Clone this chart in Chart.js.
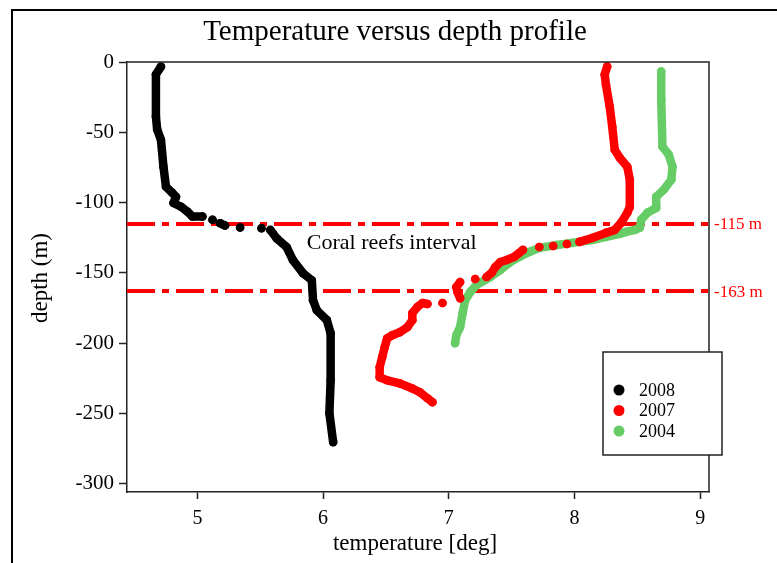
<!DOCTYPE html>
<html>
<head>
<meta charset="utf-8">
<script src="https://cdn.jsdelivr.net/npm/chart.js@4.4.1/dist/chart.umd.min.js"></script>
<style>
  html, body { margin: 0; padding: 0; background: #ffffff; }
</style>
</head>
<body>
<canvas id="chartDepthProfile" width="777" height="563"></canvas>
<script>
// temperature (deg) and depth (m) per survey year;
// a null pair breaks the trace where only scattered readings exist
var temp2008 = [4.71, 4.67, 4.67, 4.68, 4.71, 4.73, 4.75, 4.80, 4.83, 4.81, 4.87, 4.92, 4.96, 5.04,
  null, 5.12, null, 5.18, 5.22, null, 5.34, null, 5.51, null,
  5.58, 5.63, 5.71, 5.76, 5.84, 5.91, 5.92, 5.95, 6.03, 6.06, 6.06, 6.05, 6.08];
var depth2008 = [-3.3, -8.9, -38.7, -48.1, -55.3, -74.5, -88.8, -93.1, -96.0, -100.3, -103.0, -106.4, -110.0, -110.0,
  null, -112.3, null, -114.7, -116.4, null, -117.8, null, -118.3, null,
  -119.5, -125.4, -131.7, -141.0, -150.3, -155.3, -169.6, -176.7, -183.7, -193.0, -226.5, -250.0, -270.5];

var temp2007 = [8.26, 8.24, 8.25, 8.28, 8.30, 8.32, 8.36, 8.42, 8.44, 8.44, 8.42, 8.37, 8.32, 8.25, 8.14, 8.04,
  null, 7.94, null, 7.83, null, 7.72, null,
  7.59, 7.52, 7.46, 7.41, 7.37, 7.34, 7.30,
  null, 7.21, null,
  7.09, 7.06, 7.07, 7.09,
  null, 6.95, null,
  6.83, 6.79, 6.75, 6.71, 6.71, 6.67, 6.61, 6.55, 6.51, 6.49, 6.47, 6.45, 6.45, 6.51, 6.61, 6.71, 6.77, 6.83, 6.87];
var depth2007 = [-3.2, -8.9, -16.0, -31.7, -46.0, -62.4, -68.1, -74.5, -83.8, -103.1, -107.3, -114.5, -119.5, -121.6, -125.2, -128.0,
  null, -129.5, null, -130.9, null, -131.6, null,
  -133.7, -138.7, -140.9, -142.3, -145.9, -150.1, -153.0,
  null, -154.4, null,
  -156.6, -160.2, -163.8, -168.1,
  null, -171.5, null,
  -172.2, -171.5, -174.4, -178.7, -183.7, -188.7, -192.3, -194.4, -196.6, -203.0, -210.1, -217.2, -224.4, -226.5, -228.7, -232.3, -235.0, -239.3, -242.1];

var temp2004 = [8.69, 8.69, 8.70, 8.75, 8.78, 8.77, 8.71, 8.65, 8.65, 8.58, 8.53, 8.52, 8.48, 8.41, 8.36, 8.25,
  8.14, 7.98, 7.86, 7.72, 7.64, 7.56, 7.48, 7.41, 7.33, 7.22, 7.17, 7.13, 7.11, 7.09, 7.06, 7.05];
var depth2004 = [-6.8, -26.7, -60.3, -66.0, -74.5, -83.8, -90.9, -95.9, -103.8, -107.3, -112.3, -118.0, -119.5, -120.9, -122.3, -124.5,
  -126.7, -128.7, -130.2, -132.3, -135.2, -138.7, -143.0, -148.0, -153.0, -158.7, -163.8, -169.5, -178.7, -188.7, -194.4, -200.1];

var years = ["2008", "2007", "2004"];
var yearColors = ["#000000", "#ff0000", "#66cc66"];

var tempTicks = [5, 6, 7, 8, 9];
var depthTicks = [0, -50, -100, -150, -200, -250, -300];

// top and bottom of the coral reefs interval
var reefDepths = [-115, -163];

var serif = "'Liberation Serif', 'Times New Roman', serif";

function toPoints(temps, depths) {
  return temps.map(function (t, i) {
    return { x: t, y: depths[i] };
  });
}

function profileDataset(label, color, temps, depths) {
  return {
    label: label,
    data: toPoints(temps, depths),
    showLine: true,
    spanGaps: false,
    borderColor: color,
    backgroundColor: color,
    borderWidth: 8.5,
    borderCapStyle: "round",
    borderJoinStyle: "round",
    pointRadius: 4.3,
    pointHoverRadius: 4.3,
    pointBorderWidth: 0,
  };
}

var profileDecor = {
  id: "profileDecor",
  beforeDatasetsDraw: function (chart) {
    var ctx = chart.ctx;
    var area = chart.chartArea;
    var yScale = chart.scales.y;
    ctx.save();
    ctx.strokeStyle = "#ff0000";
    ctx.lineWidth = 4;
    ctx.setLineDash([28, 7, 7, 7]);
    reefDepths.forEach(function (d) {
      var py = Math.round(yScale.getPixelForValue(d));
      ctx.beginPath();
      ctx.moveTo(area.left, py);
      ctx.lineTo(area.right + 3, py);
      ctx.stroke();
    });
    ctx.restore();
  },
  afterDraw: function (chart) {
    var ctx = chart.ctx;
    var area = chart.chartArea;
    var xScale = chart.scales.x;
    var yScale = chart.scales.y;
    ctx.save();

    // outer frame
    ctx.strokeStyle = "#000000";
    ctx.lineWidth = 2;
    ctx.beginPath();
    ctx.moveTo(12, 563);
    ctx.lineTo(12, 10);
    ctx.lineTo(777, 10);
    ctx.stroke();

    // top and right edges of the plot box
    ctx.strokeStyle = "#222222";
    ctx.lineWidth = 1.5;
    ctx.beginPath();
    ctx.moveTo(area.left, area.top);
    ctx.lineTo(area.right, area.top);
    ctx.lineTo(area.right, area.bottom);
    ctx.stroke();

    // reef depth labels
    ctx.fillStyle = "#ff0000";
    ctx.font = "17px " + serif;
    ctx.textBaseline = "middle";
    ctx.textAlign = "left";
    reefDepths.forEach(function (d) {
      ctx.fillText(d + " m", area.right + 5, yScale.getPixelForValue(d) + 1);
    });

    ctx.fillStyle = "#000000";
    ctx.font = "22px " + serif;
    ctx.fillText("Coral reefs interval", xScale.getPixelForValue(5.87), yScale.getPixelForValue(-129));

    // title
    ctx.textAlign = "center";
    ctx.textBaseline = "alphabetic";
    ctx.font = "29px " + serif;
    ctx.fillText("Temperature versus depth profile", 395, 40);

    // axis titles
    ctx.font = "23px " + serif;
    ctx.textBaseline = "middle";
    ctx.fillText("temperature [deg]", 415, 544);
    ctx.save();
    ctx.translate(41, 278);
    ctx.rotate(-Math.PI / 2);
    ctx.fillText("depth (m)", 0, 0);
    ctx.restore();

    // legend box
    var bx = 603, by = 352, bw = 119, bh = 103;
    ctx.fillStyle = "#ffffff";
    ctx.fillRect(bx, by, bw, bh);
    ctx.strokeStyle = "#222222";
    ctx.lineWidth = 1.5;
    ctx.strokeRect(bx, by, bw, bh);
    ctx.font = "18px " + serif;
    ctx.textAlign = "left";
    chart.data.datasets.forEach(function (ds, i) {
      var cy = 390 + i * 20.5;
      ctx.fillStyle = ds.backgroundColor;
      ctx.beginPath();
      ctx.arc(619, cy, 5.5, 0, Math.PI * 2);
      ctx.fill();
      ctx.fillStyle = "#000000";
      ctx.fillText(ds.label, 639, cy + 1);
    });

    ctx.restore();
  },
};

var chartDepthProfile = new Chart(document.getElementById("chartDepthProfile"), {
  type: "scatter",
  data: {
    datasets: [
      profileDataset(years[0], yearColors[0], temp2008, depth2008),
      profileDataset(years[1], yearColors[1], temp2007, depth2007),
      profileDataset(years[2], yearColors[2], temp2004, depth2004),
    ],
  },
  options: {
    responsive: false,
    animation: false,
    layout: {
      padding: { top: 62, right: 68, bottom: 0, left: 0 },
    },
    plugins: {
      legend: { display: false },
      title: { display: false },
      tooltip: { enabled: false },
    },
    scales: {
      x: {
        type: "linear",
        min: 4.44,
        max: 9.07,
        afterBuildTicks: function (scale) {
          scale.ticks = tempTicks.map(function (v) { return { value: v }; });
        },
        afterFit: function (scale) {
          scale.height = 71;
        },
        grid: { drawOnChartArea: false, tickLength: 7, color: "#222222", tickWidth: 1.5 },
        border: { color: "#222222", width: 1.5 },
        ticks: {
          color: "#000000",
          padding: 8,
          maxRotation: 0,
          font: { family: serif, size: 20 },
        },
      },
      y: {
        type: "linear",
        min: -306,
        max: 0,
        afterBuildTicks: function (scale) {
          scale.ticks = depthTicks.map(function (v) { return { value: v }; });
        },
        afterFit: function (scale) {
          scale.width = 127;
        },
        grid: { drawOnChartArea: false, tickLength: 8, color: "#222222", tickWidth: 1.5 },
        border: { color: "#222222", width: 1.5 },
        ticks: {
          color: "#000000",
          padding: 5,
          font: { family: serif, size: 21 },
        },
      },
    },
  },
  plugins: [profileDecor],
});
</script>
</body>
</html>
